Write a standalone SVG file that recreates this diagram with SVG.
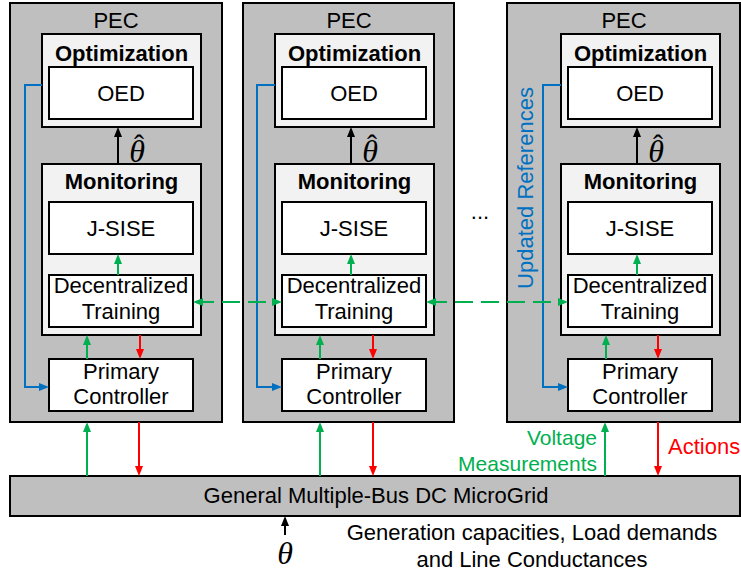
<svg xmlns="http://www.w3.org/2000/svg" width="741" height="574" viewBox="0 0 741 574">
<defs>
<style>
.pec{fill:#BFBFBF;stroke:#000;stroke-width:2}
.grp{fill:#F2F2F2;stroke:#000;stroke-width:2}
.box{fill:#FFFFFF;stroke:#000;stroke-width:2}
text{font-family:"Liberation Sans",Arial,sans-serif;font-size:22px;fill:#000}
.c{text-anchor:middle}
.b{font-weight:bold}
.th{font-family:"Liberation Serif","Times New Roman",serif;font-style:italic;font-size:32px;text-anchor:middle}
.hat{font-family:"Liberation Serif","Times New Roman",serif;font-size:30px;text-anchor:middle}
.g{stroke:#00B050;stroke-width:2;fill:none}
.r{stroke:#FF0000;stroke-width:2;fill:none}
.bl{stroke:#0070C0;stroke-width:2;fill:none}
.k{stroke:#000;stroke-width:2;fill:none}
.dash{stroke:#00B050;stroke-width:2;fill:none;stroke-dasharray:18 8}
</style>
<marker id="ag" viewBox="0 0 10 8" refX="7" refY="4" markerWidth="10" markerHeight="8" markerUnits="userSpaceOnUse" orient="auto-start-reverse"><path d="M0,0 L10,4 L0,8 z" fill="#00B050"/></marker>
<marker id="ar" viewBox="0 0 10 8" refX="7" refY="4" markerWidth="10" markerHeight="8" markerUnits="userSpaceOnUse" orient="auto"><path d="M0,0 L10,4 L0,8 z" fill="#FF0000"/></marker>
<marker id="ab" viewBox="0 0 10 8" refX="7" refY="4" markerWidth="10" markerHeight="8" markerUnits="userSpaceOnUse" orient="auto"><path d="M0,0 L10,4 L0,8 z" fill="#0070C0"/></marker>
<marker id="ak" viewBox="0 0 10 8" refX="7" refY="4" markerWidth="10" markerHeight="8" markerUnits="userSpaceOnUse" orient="auto"><path d="M0,0 L10,4 L0,8 z" fill="#000"/></marker>
</defs>
<rect width="741" height="574" fill="#FFFFFF"/>

<!-- PEC 1 -->
<g id="pec1">
<rect class="pec" x="10" y="3" width="212" height="419"/>
<text class="c" x="116" y="28">PEC</text>
</g>
<g id="opt1"><rect class="grp" x="42" y="34" width="159" height="93"/><text class="c b" x="121.5" y="61">Optimization</text></g>
<g id="oed1"><rect class="box" x="49" y="67" width="144" height="52"/><text class="c" x="121" y="101">OED</text></g>
<g id="mon1"><rect class="grp" x="42" y="164" width="159" height="171"/><text class="c b" x="121.5" y="189">Monitoring</text></g>
<g id="jsise1"><rect class="box" x="49" y="202" width="144" height="52"/><text class="c" x="121" y="236">J-SISE</text></g>
<g id="dec1"><rect class="box" x="49" y="275" width="144" height="52"/><text class="c" x="121" y="293">Decentralized</text><text class="c" x="121" y="319">Training</text></g>
<g id="prim1"><rect class="box" x="49" y="359" width="144" height="52"/><text class="c" x="121" y="379">Primary</text><text class="c" x="121" y="404">Controller</text></g>

<!-- PEC 2 -->
<g id="pec2">
<rect class="pec" x="243" y="3" width="211" height="419"/>
<text class="c" x="349" y="28">PEC</text>
</g>
<g id="opt2"><rect class="grp" x="275" y="34" width="159" height="93"/><text class="c b" x="354.5" y="61">Optimization</text></g>
<g id="oed2"><rect class="box" x="282" y="67" width="144" height="52"/><text class="c" x="354" y="101">OED</text></g>
<g id="mon2"><rect class="grp" x="275" y="164" width="159" height="171"/><text class="c b" x="354.5" y="189">Monitoring</text></g>
<g id="jsise2"><rect class="box" x="282" y="202" width="144" height="52"/><text class="c" x="354" y="236">J-SISE</text></g>
<g id="dec2"><rect class="box" x="282" y="275" width="144" height="52"/><text class="c" x="354" y="293">Decentralized</text><text class="c" x="354" y="319">Training</text></g>
<g id="prim2"><rect class="box" x="282" y="359" width="144" height="52"/><text class="c" x="354" y="379">Primary</text><text class="c" x="354" y="404">Controller</text></g>

<text id="ellipsis" class="c" x="480" y="219">...</text>

<!-- PEC 3 -->
<g id="pec3">
<rect class="pec" x="507" y="3" width="233" height="419"/>
<text class="c" x="624" y="28">PEC</text>
</g>
<g id="opt3"><rect class="grp" x="561" y="34" width="159" height="93"/><text class="c b" x="640.5" y="61">Optimization</text></g>
<g id="oed3"><rect class="box" x="568" y="67" width="144" height="52"/><text class="c" x="640" y="101">OED</text></g>
<g id="mon3"><rect class="grp" x="561" y="164" width="159" height="171"/><text class="c b" x="640.5" y="189">Monitoring</text></g>
<g id="jsise3"><rect class="box" x="568" y="202" width="144" height="52"/><text class="c" x="640" y="236">J-SISE</text></g>
<g id="dec3"><rect class="box" x="568" y="275" width="144" height="52"/><text class="c" x="640" y="293">Decentralized</text><text class="c" x="640" y="319">Training</text></g>
<g id="prim3"><rect class="box" x="568" y="359" width="144" height="52"/><text class="c" x="640" y="379">Primary</text><text class="c" x="640" y="404">Controller</text></g>

<!-- Bus -->
<g id="bus">
<rect class="pec" x="10" y="476" width="730" height="40"/>
<text class="c" x="376" y="503">General Multiple-Bus DC MicroGrid</text>
</g>

<!-- Connectors -->
<g id="connectors">
<path class="bl" d="M42,85 H25 V387 H46" marker-end="url(#ab)"/>
<path class="bl" d="M275,85 H257 V387 H279" marker-end="url(#ab)"/>
<path class="bl" d="M561,85 H543 V387 H565" marker-end="url(#ab)"/>
<path class="k" d="M118,164 V130" marker-end="url(#ak)"/>
<path class="k" d="M351,164 V130" marker-end="url(#ak)"/>
<path class="k" d="M637,164 V130" marker-end="url(#ak)"/>
<path class="g" d="M118,275 V257" marker-end="url(#ag)"/>
<path class="g" d="M351,275 V257" marker-end="url(#ag)"/>
<path class="g" d="M637,275 V257" marker-end="url(#ag)"/>
<path class="g" d="M87,359 V338" marker-end="url(#ag)"/>
<path class="g" d="M320,359 V338" marker-end="url(#ag)"/>
<path class="g" d="M606,359 V338" marker-end="url(#ag)"/>
<path class="r" d="M140,335 V356" marker-end="url(#ar)"/>
<path class="r" d="M373,335 V356" marker-end="url(#ar)"/>
<path class="r" d="M658,335 V356" marker-end="url(#ar)"/>
<path class="g" d="M87,476 V425" marker-end="url(#ag)"/>
<path class="g" d="M320,476 V425" marker-end="url(#ag)"/>
<path class="g" d="M605,476 V425" marker-end="url(#ag)"/>
<path class="r" d="M139,422 V473" marker-end="url(#ar)"/>
<path class="r" d="M373,422 V473" marker-end="url(#ar)"/>
<path class="r" d="M658,422 V473" marker-end="url(#ar)"/>
<path class="dash" d="M196,302 H279" marker-start="url(#ag)" marker-end="url(#ag)"/>
<path class="dash" d="M429,302 H565" marker-start="url(#ag)" marker-end="url(#ag)"/>
<path class="k" d="M285,535 V519" marker-end="url(#ak)"/>
</g>

<!-- Labels -->
<g id="thetahat1"><text class="th" x="137" y="162">θ</text><text class="hat" x="139" y="155">ˆ</text></g>
<g id="thetahat2"><text class="th" x="370" y="162">θ</text><text class="hat" x="372" y="155">ˆ</text></g>
<g id="thetahat3"><text class="th" x="656" y="162">θ</text><text class="hat" x="658" y="155">ˆ</text></g>
<text class="th" x="285" y="564">θ</text>
<text x="533" y="188" class="c" style="fill:#0070C0" transform="rotate(-90 533 188)">Updated References</text>
<text x="597" y="445" style="fill:#00B050;font-size:21px;text-anchor:end">Voltage</text>
<text x="597" y="471" style="fill:#00B050;font-size:21px;text-anchor:end">Measurements</text>
<text x="668" y="454" style="fill:#FF0000">Actions</text>
<text class="c" x="532" y="540">Generation capacities, Load demands</text>
<text class="c" x="532" y="567">and Line Conductances</text>
</svg>
